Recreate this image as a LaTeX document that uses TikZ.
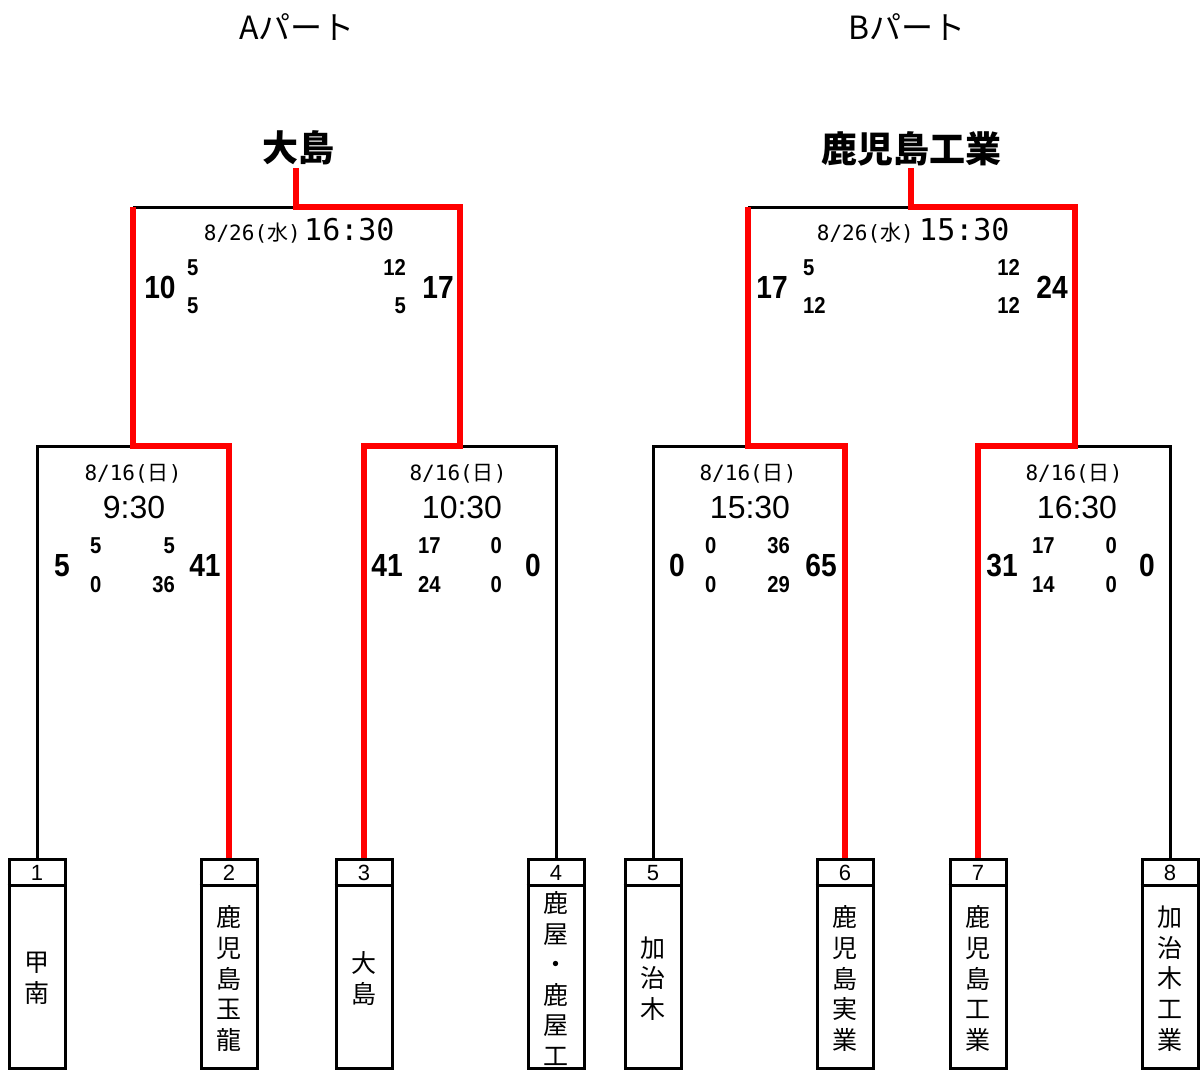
\documentclass[tikz,border=0pt]{standalone}
\usepackage{fontspec}
\setmainfont{Liberation Sans}
\newfontfamily\jp{Noto Sans CJK JP}
\newfontfamily\monof{DejaVu Sans Mono}
\newfontfamily\scoref{Liberation Sans}[FakeStretch=0.88]
\newcommand\fsz[1]{\fontsize{#1}{#1}\selectfont}
\newcommand\dte[2]{{\monof\fsz{21}#1(}{\jp\fsz{21}#2}{\monof\fsz{21})}}
\begin{document}
\begin{tikzpicture}[x=1pt,y=-1pt,
  wire/.style={line width=3pt,black},
  win/.style={line width=5.5pt,red},
  teambox/.style={draw,line width=3pt,minimum width=56pt,minimum height=209pt,inner sep=0pt},
  numlbl/.style={font=\fsz{22},inner sep=0pt},
  namelbl/.style={font=\jp\fontsize{25}{30.6}\selectfont,align=center,inner sep=0pt},
  hdr/.style={font=\jp\fsz{32},inner sep=0pt},
  champ/.style={font=\jp\bfseries\fsz{36},inner sep=0pt},
  big/.style={font=\scoref\bfseries\fsz{32},anchor=base,inner sep=0pt},
  subl/.style={font=\scoref\bfseries\fsz{23},anchor=base west,inner sep=0pt},
  subr/.style={font=\scoref\bfseries\fsz{23},anchor=base east,inner sep=0pt},
  datel/.style={anchor=base,inner sep=0pt},
  timel/.style={font=\fsz{32},anchor=base,inner sep=0pt}
]
\useasboundingbox (0,0) rectangle (1201,1073);

% headers and champions
\node[hdr] (hA) at (297,27) {Aパート};
\node[hdr] (hB) at (907,27) {Bパート};
\node[champ] (chA) at (298,148) {大島};
\node[champ] (chB) at (911,149) {鹿児島工業};
\coordinate (cA) at (296,168);
\coordinate (cB) at (911,168);

% team boxes
\foreach \i/\x/\nm in {1/37/{甲\\南},2/229/{鹿\\児\\島\\玉\\龍},3/364/{大\\島},4/556/{鹿\\屋\\・\\鹿\\屋\\工},5/653/{加\\治\\木},6/845/{鹿\\児\\島\\実\\業},7/978/{鹿\\児\\島\\工\\業},8/1170/{加\\治\\木\\工\\業}}{
  \node[teambox] (t\i) at (\x,964) {};
  \draw[line width=3pt] ([yshift=-27.5pt]t\i.north west) -- ([yshift=-27.5pt]t\i.north east);
  \node[numlbl] (n\i) at (\x,873) {\i};
  \node[namelbl] (m\i) at (\x,978.5) {\nm};
}

% bracket junctions
\coordinate (g1) at (133,446);
\coordinate (g2) at (460,446);
\coordinate (g3) at (748,446);
\coordinate (g4) at (1075,446);
\coordinate (fA) at (296,207);
\coordinate (fB) at (911,207);

% black lines
\draw[wire] (t1.north) |- (g1);
\draw[wire] (g2) -| (t4.north);
\draw[wire] (g1 |- fA) -- (fA);
\draw[wire] (t5.north) |- (g3);
\draw[wire] (g4) -| (t8.north);
\draw[wire] (g3 |- fB) -- (fB);

% red (winning) lines
\draw[win] (t2.north) |- (g1) -- (g1 |- fA);
\draw[win] (t3.north) |- (g2) -- (g2 |- fA) -- (fA) -- (cA);
\draw[win] (t6.north) |- (g3) -- (g3 |- fB);
\draw[win] (t7.north) |- (g4) -- (g4 |- fB) -- (fB) -- (cB);

% final A
\node[datel,anchor=base east] (dA) at (301,240) {\dte{8/26}{水}};
\node[anchor=base west,inner sep=0pt,font=\monof\fsz{30}] (tA) at (304,240) {16:30};
\node[big] (sA1) at (160,298) {10};
\node[subl] (sA1a) at (187,275) {5};
\node[subl] (sA1b) at (187,313) {5};
\node[subr] (sA2a) at (406,275) {12};
\node[subr] (sA2b) at (406,313) {5};
\node[big] (sA2) at (438,298) {17};

% final B
\node[datel,anchor=base east] (dB) at (914,240) {\dte{8/26}{水}};
\node[anchor=base west,inner sep=0pt,font=\monof\fsz{30}] (tB) at (919,240) {15:30};
\node[big] (sB1) at (772,298) {17};
\node[subl] (sB1a) at (803,275) {5};
\node[subl] (sB1b) at (803,313) {12};
\node[subr] (sB2a) at (1020,275) {12};
\node[subr] (sB2b) at (1020,313) {12};
\node[big] (sB2) at (1052,298) {24};

% game 1
\node[datel] (d1) at (133,480) {\dte{8/16}{日}};
\node[timel] (ti1) at (134,518) {9:30};
\node[big] (s11) at (62,576) {5};
\node[subl] (s11a) at (90,553) {5};
\node[subl] (s11b) at (90,592) {0};
\node[subr] (s12a) at (175,553) {5};
\node[subr] (s12b) at (175,592) {36};
\node[big] (s12) at (205,576) {41};

% game 2
\node[datel] (d2) at (458,480) {\dte{8/16}{日}};
\node[timel] (ti2) at (462,518) {10:30};
\node[big] (s21) at (387,576) {41};
\node[subl] (s21a) at (418,553) {17};
\node[subl] (s21b) at (418,592) {24};
\node[subr] (s22a) at (502,553) {0};
\node[subr] (s22b) at (502,592) {0};
\node[big] (s22) at (533,576) {0};

% game 3
\node[datel] (d3) at (748,480) {\dte{8/16}{日}};
\node[timel] (ti3) at (750,518) {15:30};
\node[big] (s31) at (677,576) {0};
\node[subl] (s31a) at (705,553) {0};
\node[subl] (s31b) at (705,592) {0};
\node[subr] (s32a) at (790,553) {36};
\node[subr] (s32b) at (790,592) {29};
\node[big] (s32) at (821,576) {65};

% game 4
\node[datel] (d4) at (1074,480) {\dte{8/16}{日}};
\node[timel] (ti4) at (1077,518) {16:30};
\node[big] (s41) at (1002,576) {31};
\node[subl] (s41a) at (1032,553) {17};
\node[subl] (s41b) at (1032,592) {14};
\node[subr] (s42a) at (1117,553) {0};
\node[subr] (s42b) at (1117,592) {0};
\node[big] (s42) at (1147,576) {0};
\end{tikzpicture}
\end{document}
